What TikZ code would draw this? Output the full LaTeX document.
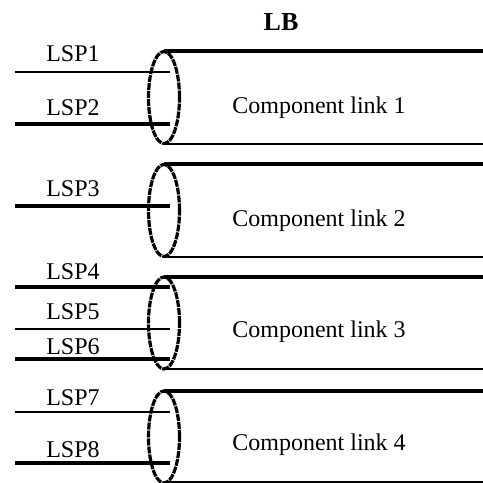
\documentclass[tikz,border=0pt]{standalone}
\usepackage{fontspec}
\setmainfont{Liberation Serif}
\usetikzlibrary{shapes.geometric}

\begin{document}
\begin{tikzpicture}[x=1pt,y=-1pt,font=\fontsize{24}{26}\selectfont,
  bundle/.style={draw,ellipse,dash pattern=on 7pt off 1pt,line width=3.2pt,
    minimum width=31pt,minimum height=92pt,inner sep=0pt},
  tubetop/.style={line width=3.5pt},
  tubebot/.style={line width=2pt},
  thinlsp/.style={line width=1.4pt},
  thicklsp/.style={line width=3.5pt}]
  \useasboundingbox (0,0) rectangle (483,483);
  \coordinate (edge) at (483,0);
  \coordinate (tip) at (170,0);

  \node[font=\fontsize{26}{28}\selectfont\bfseries] (lb) at (281,22) {LB};

  % component links (y runs downwards, so yshift is flipped)
  \coordinate (c1) at (164,97.5);
  \coordinate (c2) at (164,210.5);
  \coordinate (c3) at (164,323);
  \coordinate (c4) at (164,437);
  \draw[tubetop] ([yshift=46.5pt]c1) -- ([yshift=46.5pt]c1 -| edge);
  \draw[tubebot] ([yshift=-46.5pt]c1) -- ([yshift=-46.5pt]c1 -| edge);
  \draw[tubetop] ([yshift=46.5pt]c2) -- ([yshift=46.5pt]c2 -| edge);
  \draw[tubebot] ([yshift=-46.5pt]c2) -- ([yshift=-46.5pt]c2 -| edge);
  \draw[tubetop] ([yshift=46pt]c3) -- ([yshift=46pt]c3 -| edge);
  \draw[tubebot] ([yshift=-46pt]c3) -- ([yshift=-46pt]c3 -| edge);
  \draw[tubetop] ([yshift=46pt]c4) -- ([yshift=46pt]c4 -| edge);
  \draw[tubebot] ([yshift=-45pt]c4) -- ([yshift=-45pt]c4 -| edge);
  \node (k1) at (319,108) {Component link 1};
  \node (k2) at (319,221) {Component link 2};
  \node (k3) at (319,332) {Component link 3};
  \node (k4) at (319,445) {Component link 4};

  % LSPs
  \coordinate (s1) at (15,72);
  \coordinate (s2) at (15,124);
  \coordinate (s3) at (15,206);
  \coordinate (s4) at (15,287);
  \coordinate (s5) at (15,329);
  \coordinate (s6) at (15,359);
  \coordinate (s7) at (15,412);
  \coordinate (s8) at (15,463);
  \draw[thinlsp] (s1) -- (s1 -| tip);
  \draw[thicklsp] (s2) -- (s2 -| tip);
  \draw[thicklsp] (s3) -- (s3 -| tip);
  \draw[thicklsp] (s4) -- (s4 -| tip);
  \draw[thinlsp] (s5) -- (s5 -| tip);
  \draw[thicklsp] (s6) -- (s6 -| tip);
  \draw[thinlsp] (s7) -- (s7 -| tip);
  \draw[thicklsp] (s8) -- (s8 -| tip);
  \node (l1) at (73,54) {LSP1};
  \node (l2) at (73,108) {LSP2};
  \node (l3) at (73,189) {LSP3};
  \node (l4) at (73,272) {LSP4};
  \node (l5) at (73,312) {LSP5};
  \node (l6) at (73,347) {LSP6};
  \node (l7) at (73,398) {LSP7};
  \node (l8) at (73,450) {LSP8};

  \node[bundle] (b1) at (c1) {};
  \node[bundle] (b2) at (c2) {};
  \node[bundle] (b3) at (c3) {};
  \node[bundle] (b4) at (c4) {};
\end{tikzpicture}
\end{document}
